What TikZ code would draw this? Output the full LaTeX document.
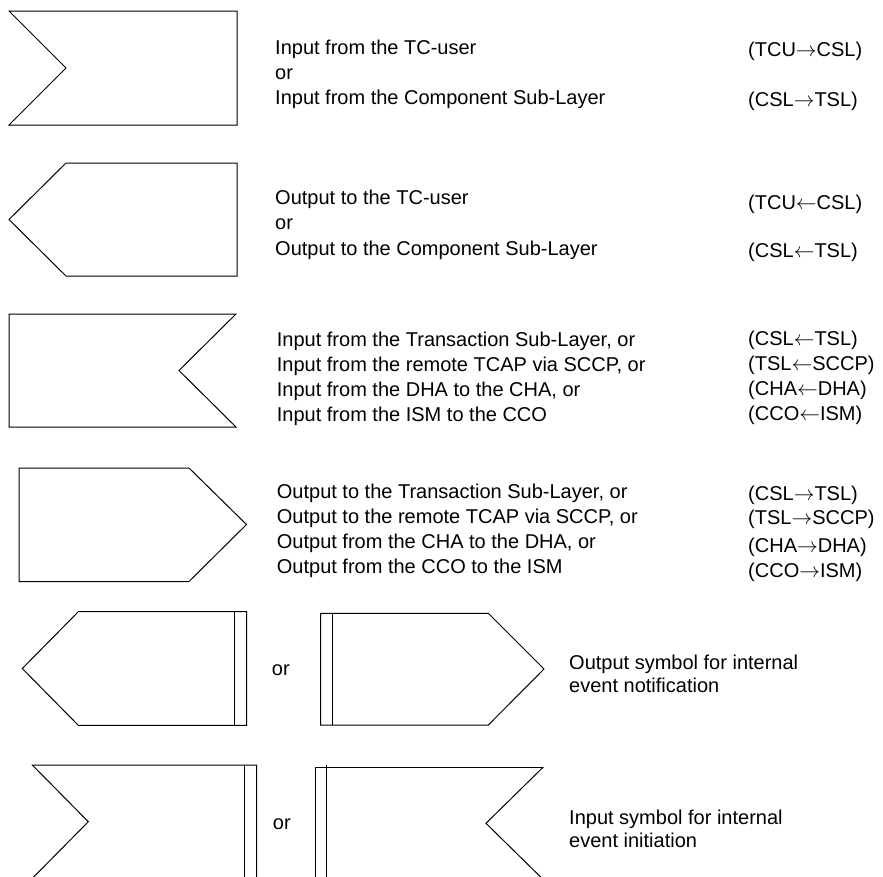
\documentclass[tikz,border=0pt]{standalone}
\usepackage{fontspec}
\setmainfont{Liberation Sans}
\begin{document}
\begin{tikzpicture}[x=1pt,y=-1pt,
  sym/.style={draw=black,line width=1pt,line join=miter},
  txt/.style={anchor=base west,inner sep=0pt,font=\fontsize{20}{24}\selectfont}]
\useasboundingbox (0,0) rectangle (883,876);
\clip (0,0) rectangle (883,876);
% row 1: input
\draw[sym] (9,11) -- (237,11) -- (237,125) -- (9,125) -- (66,68) -- cycle;
% row 2: output
\draw[sym] (66,163) -- (237,163) -- (237,276) -- (66,276) -- (9,219.5) -- cycle;
% row 3: input, notch right
\draw[sym] (9,314) -- (236,314) -- (179,370.5) -- (236,427) -- (9,427) -- cycle;
% row 4: output pointing right
\draw[sym] (19,468) -- (189,468) -- (246.5,524.5) -- (189,581.5) -- (19,581.5) -- cycle;
% row 5 left
\draw[sym] (78.3,611.7) -- (246.7,611.7) -- (246.7,725.3) -- (78.3,725.3) -- (22.3,668.5) -- cycle;
\draw[sym] (234,611.7) -- (234,725.3);
% row 5 right
\draw[sym] (320.7,613.3) -- (488.3,613.3) -- (544,669) -- (488.3,725) -- (320.7,725) -- cycle;
\draw[sym] (332.7,613.3) -- (332.7,725);
% row 6 left
\draw[sym] (32.3,765) -- (256.7,765) -- (256.7,880) -- (32.3,878.4) -- (88.3,821.7) -- cycle;
\draw[sym] (244.3,765) -- (244.3,880);
% row 6 right
\draw[sym] (543.3,767) -- (315.7,767) -- (315.7,882);
\draw[sym] (543.3,767) -- (486,823.3) -- (543.3,879.6);
\draw[sym] (326.7,765) -- (326.7,882);
% texts row 1
\node[txt] (t1a) at (275,54) {Input from the TC-user};
\node[txt] (t1b) at (275,79) {or};
\node[txt] (t1c) at (275,104.3) {Input from the Component Sub-Layer};
\node[txt] (r1a) at (748,56) {(TCU$\rightarrow$CSL)};
\node[txt] (r1b) at (748,106) {(CSL$\rightarrow$TSL)};
% row 2
\node[txt] (t2a) at (275,204.3) {Output to the TC-user};
\node[txt] (t2b) at (275,229.3) {or};
\node[txt] (t2c) at (275,255) {Output to the Component Sub-Layer};
\node[txt] (r2a) at (748,209) {(TCU$\leftarrow$CSL)};
\node[txt] (r2b) at (748,257) {(CSL$\leftarrow$TSL)};
% row 3
\node[txt] (t3a) at (276.7,346) {Input from the Transaction Sub-Layer, or};
\node[txt] (t3b) at (276.7,371) {Input from the remote TCAP via SCCP, or};
\node[txt] (t3c) at (276.7,396) {Input from the DHA to the CHA, or};
\node[txt] (t3d) at (276.7,421.7) {Input from the ISM to the CCO};
\node[txt] (r3a) at (748,345) {(CSL$\leftarrow$TSL)};
\node[txt] (r3b) at (748,370) {(TSL$\leftarrow$SCCP)};
\node[txt] (r3c) at (748,395) {(CHA$\leftarrow$DHA)};
\node[txt] (r3d) at (748,420) {(CCO$\leftarrow$ISM)};
% row 4
\node[txt] (t4a) at (276.7,498.3) {Output to the Transaction Sub-Layer, or};
\node[txt] (t4b) at (276.7,523.3) {Output to the remote TCAP via SCCP, or};
\node[txt] (t4c) at (276.7,548.3) {Output from the CHA to the DHA, or};
\node[txt] (t4d) at (276.7,573.3) {Output from the CCO to the ISM};
\node[txt] (r4a) at (748,500) {(CSL$\rightarrow$TSL)};
\node[txt] (r4b) at (748,524) {(TSL$\rightarrow$SCCP)};
\node[txt] (r4c) at (748,552) {(CHA$\rightarrow$DHA)};
\node[txt] (r4d) at (748,577) {(CCO$\rightarrow$ISM)};
% row 5
\node[txt] (or5) at (271.7,675) {or};
\node[txt] (t5a) at (569,669) {Output symbol for internal};
\node[txt] (t5b) at (569,692) {event notification};
% row 6
\node[txt] (or6) at (272.7,829) {or};
\node[txt] (t6a) at (569,824) {Input symbol for internal};
\node[txt] (t6b) at (569,847) {event initiation};
\end{tikzpicture}
\end{document}
